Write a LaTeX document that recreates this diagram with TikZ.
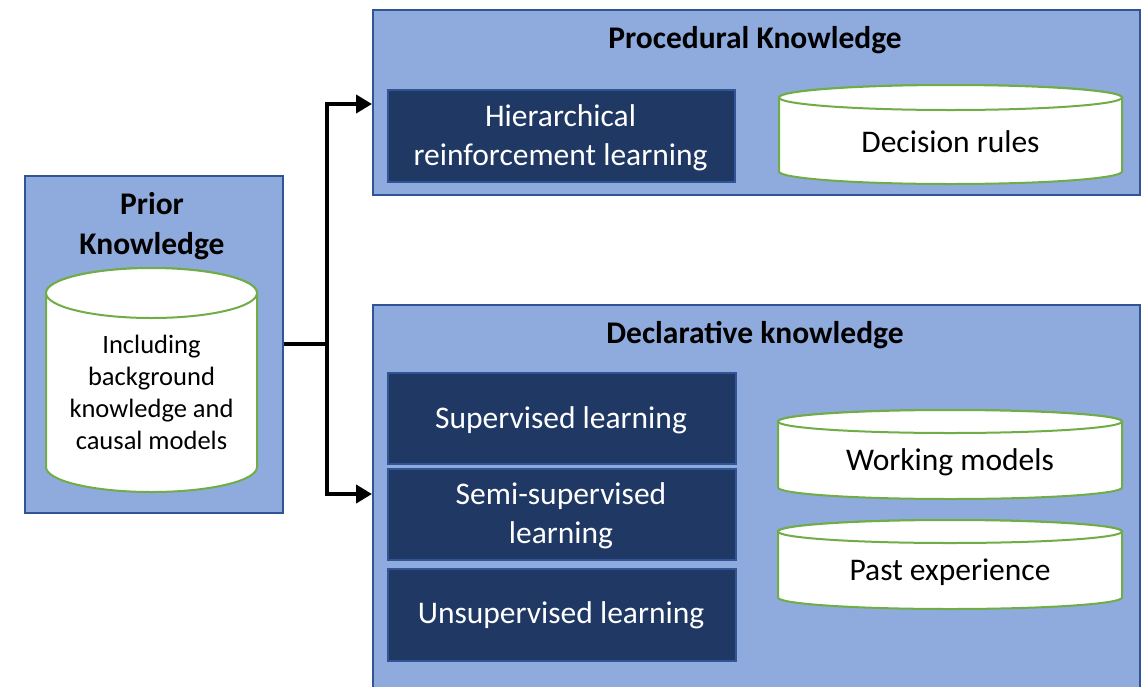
\documentclass[tikz,border=0pt]{standalone}
\usepackage{fontspec}
\setmainfont{Carlito}
\usetikzlibrary{arrows.meta}
\definecolor{lightblue}{HTML}{8FAADC}
\definecolor{bordblue}{HTML}{2F5597}
\definecolor{darkblue}{HTML}{203864}
\definecolor{cylgreen}{HTML}{70AD47}
\tikzset{
  bigbox/.style={draw=bordblue, fill=lightblue, line width=2pt, anchor=north west, inner sep=0pt},
  darkbox/.style={draw=bordblue, fill=darkblue, line width=1.8pt, anchor=north west, inner sep=0pt},
  cylstyle/.style={draw=cylgreen, fill=white, line width=2pt},
  titletext/.style={font=\fontsize{31.5}{40}\selectfont\bfseries, align=center, inner sep=0pt},
  bodytext/.style={font=\fontsize{31.5}{39}\selectfont, align=center, inner sep=0pt},
  whitetext/.style={bodytext, text=white},
  smalltext/.style={font=\fontsize{26.5}{32}\selectfont, align=center, inner sep=0pt},
  conn/.style={line width=4.5pt, -{Triangle[length=16pt,width=18pt]}},
}
\newcommand{\dbcyl}[8]{% name, x1, y1, x2, y2, ry, text y, text
  \pgfmathsetmacro\cxx{(#2+#4)/2}
  \pgfmathsetmacro\rxx{(#4-#2)/2}
  \pgfmathsetmacro\cya{#3+#6}
  \pgfmathsetmacro\cyb{#5-#6}
  \draw[cylstyle] (#2,\cya) -- (#2,\cyb) arc[start angle=180,end angle=360,x radius=\rxx pt,y radius=#6 pt] -- (#4,\cya) arc[start angle=0,end angle=180,x radius=\rxx pt,y radius=#6 pt] -- cycle;
  \draw[cylstyle] (\cxx,\cya) ellipse[x radius=\rxx pt, y radius=#6 pt];
  \node[bodytext] (#1) at (\cxx,#7) {#8};
}
\begin{document}
\begin{tikzpicture}[x=1pt,y=-1pt]
\clip (0,0) rectangle (1143,686);
\fill[white] (0,0) rectangle (1143,686);

% Prior knowledge
\node[bigbox, minimum width=258pt, minimum height=337pt] (prior) at (24,175) {};
\node[titletext] (priortitle) at (152,226) {Prior\\Knowledge};
\dbcyl{priorcyl}{46}{268}{257}{492}{25}{392}{}
\node[smalltext] (priortext) at (151.5,392) {Including\\background\\knowledge and\\causal models};

% Procedural
\node[bigbox, minimum width=767pt, minimum height=185pt] (proc) at (372,9) {};
\node[titletext] (proctitle) at (755,40) {Procedural Knowledge};
\node[darkbox, minimum width=347pt, minimum height=92pt] (hrl) at (387,89) {};
\node[whitetext] (hrltext) at (560.5,138) {Hierarchical\\reinforcement learning};
\dbcyl{decision}{779}{85}{1122}{184}{12.5}{141.5}{Decision rules}

% Declarative
\node[bigbox, minimum width=767pt, minimum height=420pt] (decl) at (372,304) {};
\node[titletext] (decltitle) at (755,335) {Declarative knowledge};
\node[darkbox, minimum width=348pt, minimum height=91pt] (sup) at (387,372) {};
\node[whitetext] (suptext) at (561,420) {Supervised learning};
\node[darkbox, minimum width=348pt, minimum height=91pt] (semi) at (387,468) {};
\node[whitetext] (semitext) at (561,516) {Semi-supervised\\learning};
\node[darkbox, minimum width=348pt, minimum height=92pt] (unsup) at (387,568) {};
\node[whitetext] (unsuptext) at (561,615) {Unsupervised learning};
\dbcyl{working}{778}{410}{1122}{499}{11.5}{462.5}{Working models}
\dbcyl{past}{778}{520}{1122}{609}{11.5}{572.5}{Past experience}

% Connectors
\coordinate (junction) at (327,344);
\draw[line width=4.5pt] (prior.east |- junction) -- (junction);
\draw[conn] (junction) |- ([yshift=-1.5pt]proc.west);
\draw[conn] (junction) |- ([yshift=-190pt]decl.north west);
\end{tikzpicture}
\end{document}
